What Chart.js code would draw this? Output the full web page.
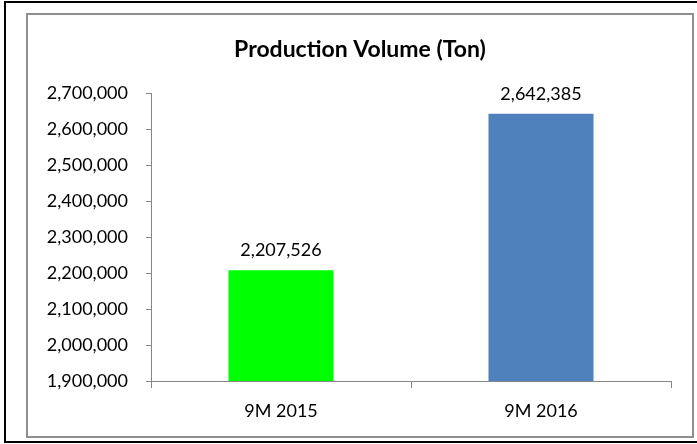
<!DOCTYPE html>
<html>
<head>
<meta charset="utf-8">
<script src="https://cdn.jsdelivr.net/npm/chart.js@4.4.1/dist/chart.umd.min.js"></script>
<style>
    body { margin: 0; background: #fff; }
    #outer { position: absolute; left: 4px; top: 1px; width: 700px; height: 442px; border: 2px solid #000; box-sizing: border-box; }
    #inner { position: absolute; left: 26px; top: 13px; width: 668px; height: 425px; border: 2px solid #8f8f8f; box-sizing: border-box; }
    #chart { position: absolute; left: 0; top: 0; }
</style>
</head>
<body>
<div id="outer"></div>
<div id="inner"></div>
<canvas id="chart" width="697" height="444"></canvas>
<script>
// Chart data
const chartTitle = 'Production Volume (Ton)';
const categories = ['9M 2015', '9M 2016'];
const volumes = [2207526, 2642385];
const barColors = ['#00ff00', '#4f81bd'];
const yMin = 1900000;
const yMax = 2700000;
const yStep = 100000;

const fmt = v => v.toLocaleString('en-US');
const fontFamily = 'Lato, "Open Sans", sans-serif';

// Title centred over the inner frame (not just the plot area)
const frameTitle = {
    id: 'frameTitle',
    afterDraw(chart) {
        const ctx = chart.ctx;
        ctx.save();
        ctx.font = 'bold 23px ' + fontFamily;
        ctx.fillStyle = '#000';
        ctx.textAlign = 'center';
        ctx.textBaseline = 'alphabetic';
        ctx.fillText(chartTitle, 360, 57);
        ctx.restore();
    }
};

// Value labels above each bar
const valueLabels = {
    id: 'valueLabels',
    afterDatasetsDraw(chart) {
        const ctx = chart.ctx;
        const meta = chart.getDatasetMeta(0);
        ctx.save();
        ctx.font = '18px ' + fontFamily;
        ctx.fillStyle = '#000';
        ctx.textAlign = 'center';
        ctx.textBaseline = 'alphabetic';
        meta.data.forEach((bar, i) => {
            ctx.fillText(fmt(volumes[i]), bar.x, bar.y - 14);
        });
        ctx.restore();
    }
};

new Chart(document.getElementById('chart'), {
    type: 'bar',
    data: {
        labels: categories,
        datasets: [{
            data: volumes,
            backgroundColor: barColors,
            categoryPercentage: 1,
            barPercentage: 0.404
        }]
    },
    options: {
        responsive: false,
        animation: false,
        layout: { padding: { left: 0, right: 26, top: 93, bottom: 0 } },
        plugins: {
            legend: { display: false },
            tooltip: { enabled: false },
            title: { display: false }
        },
        scales: {
            x: {
                grid: { drawOnChartArea: false, drawTicks: true, tickLength: 7, color: '#868686', offset: true },
                border: { color: '#868686' },
                ticks: { color: '#000', font: { family: fontFamily, size: 18 }, padding: 12 },
                afterFit(scale) { scale.height = 63; }
            },
            y: {
                min: yMin,
                max: yMax,
                grid: { drawOnChartArea: false, drawTicks: true, tickLength: 5, color: '#868686' },
                border: { color: '#868686' },
                ticks: {
                    stepSize: yStep,
                    color: '#000',
                    font: { family: fontFamily, size: 18 },
                    padding: 18,
                    callback: v => fmt(v)
                },
                afterFit(scale) { scale.width = 151; }
            }
        }
    },
    plugins: [valueLabels, frameTitle]
});
</script>
</body>
</html>
